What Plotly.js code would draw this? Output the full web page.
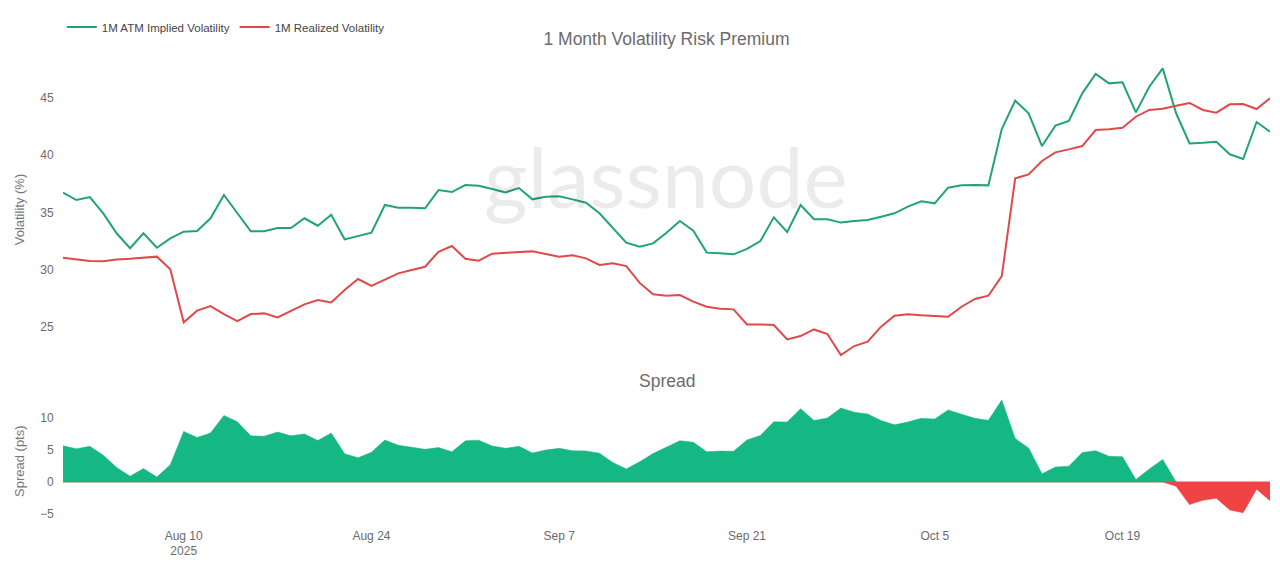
<!DOCTYPE html>
<html>
<head>
<meta charset="utf-8">
<script src="https://cdn.plot.ly/plotly-3.0.1.min.js"></script>
<style>
  html, body { margin: 0; padding: 0; background: #fff; }
  #chart { width: 1280px; height: 568px; }
</style>
</head>
<body>
<div id="chart"></div>
<script>
// Daily observations, 1 Aug 2025 – 30 Oct 2025
const startDate = '2025-08-01';
const dayCount = 91;

// 1M ATM implied volatility (%)
const impliedVol = [
  36.72, 36.08, 36.34, 34.92, 33.18, 31.87, 33.18, 31.92, 32.74, 33.32,
  33.38, 34.49, 36.52, 34.92, 33.35, 33.35, 33.64, 33.64, 34.49, 33.84,
  34.80, 32.65, 32.97, 33.23, 35.65, 35.41, 35.41, 35.36, 36.95, 36.78,
  37.39, 37.33, 37.04, 36.75, 37.13, 36.14, 36.37, 36.40, 36.14, 35.85,
  34.92, 33.61, 32.36, 32.01, 32.30, 33.23, 34.25, 33.41, 31.49, 31.43,
  31.34, 31.81, 32.50, 34.57, 33.29, 35.65, 34.40, 34.40, 34.11, 34.25,
  34.34, 34.63, 34.92, 35.50, 35.97, 35.79, 37.16, 37.36, 37.40, 37.36,
  42.28, 44.75, 43.65, 40.79, 42.57, 42.98, 45.39, 47.08, 46.26, 46.35,
  43.73, 45.97, 47.57, 43.65, 41.02, 41.08, 41.17, 40.07, 39.66, 42.89,
  42.04
];

// 1M realized volatility (%)
const realizedVol = [
  31.05, 30.90, 30.76, 30.73, 30.90, 30.96, 31.08, 31.14, 30.03, 25.41,
  26.43, 26.83, 26.13, 25.52, 26.13, 26.19, 25.84, 26.43, 26.98, 27.36,
  27.15, 28.23, 29.19, 28.58, 29.10, 29.68, 29.97, 30.26, 31.57, 32.07,
  30.96, 30.79, 31.40, 31.49, 31.54, 31.60, 31.37, 31.14, 31.26, 30.99,
  30.41, 30.56, 30.32, 28.85, 27.85, 27.73, 27.79, 27.21, 26.77, 26.60,
  26.54, 25.23, 25.23, 25.17, 23.92, 24.21, 24.79, 24.39, 22.56, 23.34,
  23.72, 25.03, 25.99, 26.11, 26.02, 25.96, 25.90, 26.77, 27.45, 27.73,
  29.45, 37.97, 38.32, 39.49, 40.24, 40.50, 40.79, 42.19, 42.25, 42.39,
  43.35, 43.94, 44.05, 44.31, 44.55, 43.94, 43.70, 44.43, 44.46, 44.02,
  44.96
];

const volTicks = [25, 30, 35, 40, 45];
const spreadTicks = [-5, 0, 5, 10];

const seriesNames = ['1M ATM Implied Volatility', '1M Realized Volatility'];
const chartTitle = '1 Month Volatility Risk Premium';
const spreadTitle = 'Spread';
const watermark = 'glassnode';

// Date axis values
const dates = [];
{
  const d0 = new Date(startDate + 'T00:00:00Z');
  for (let i = 0; i < dayCount; i++) {
    const d = new Date(d0.getTime() + i * 86400000);
    dates.push(d.toISOString().slice(0, 10));
  }
}

// Volatility risk premium = implied minus realized
const spread = impliedVol.map((v, i) => +(v - realizedVol[i]).toFixed(2));
const spreadPos = spread.map(v => Math.max(v, 0));
const spreadNeg = spread.map(v => Math.min(v, 0));

const GREEN_LINE = '#22a377';
const RED_LINE = '#e0494b';
const GREEN_FILL = '#15b883';
const RED_FILL = '#ef4444';
const FONT = 'Liberation Sans, Arial, Helvetica, sans-serif';

const traces = [
  {
    x: dates, y: impliedVol, name: seriesNames[0], type: 'scatter', mode: 'lines',
    line: { color: GREEN_LINE, width: 2 }, xaxis: 'x', yaxis: 'y'
  },
  {
    x: dates, y: realizedVol, name: seriesNames[1], type: 'scatter', mode: 'lines',
    line: { color: RED_LINE, width: 2 }, xaxis: 'x', yaxis: 'y'
  },
  {
    x: dates, y: spreadPos, name: 'Spread +', type: 'scatter', mode: 'lines',
    fill: 'tozeroy', fillcolor: GREEN_FILL, line: { color: GREEN_FILL, width: 0.5 },
    showlegend: false, xaxis: 'x2', yaxis: 'y2'
  },
  {
    x: dates, y: spreadNeg, name: 'Spread −', type: 'scatter', mode: 'lines',
    fill: 'tozeroy', fillcolor: RED_FILL, line: { color: RED_FILL, width: 0.5 },
    showlegend: false, xaxis: 'x2', yaxis: 'y2'
  }
];

const xRange = [dates[0], dates[dates.length - 1]];
const tickFont = { family: FONT, size: 12, color: '#6b6b6b' };

const layout = {
  width: 1280, height: 568,
  paper_bgcolor: '#ffffff', plot_bgcolor: '#ffffff',
  margin: { l: 63, r: 10, t: 50, b: 40 },
  font: { family: FONT, color: '#666' },
  showlegend: true,
  legend: {
    orientation: 'h', x: -0.001, xanchor: 'left', y: 1.048, yanchor: 'middle',
    font: { family: FONT, size: 11.5, color: '#444' }, bgcolor: 'rgba(0,0,0,0)'
  },
  title: {
    text: chartTitle, x: 0.5, xref: 'paper', xanchor: 'center',
    y: 1 - 39 / 568, yref: 'container', yanchor: 'middle',
    font: { family: FONT, size: 17.5, color: '#6b6b6b' }
  },
  xaxis: {
    type: 'date', range: xRange, domain: [0, 1], anchor: 'y',
    showticklabels: false, showgrid: false, zeroline: false, showline: false,
    matches: 'x2'
  },
  xaxis2: {
    type: 'date', range: xRange, domain: [0, 1], anchor: 'y2',
    tick0: '2025-08-10', dtick: 14 * 86400000,
    showgrid: false, zeroline: false, showline: false,
    ticks: '', tickfont: tickFont
  },
  yaxis: {
    domain: [(528 - 361.4) / 478, (528 - 57.7) / 478],
    range: [22, 48.5], tickvals: volTicks,
    showgrid: false, zeroline: false, showline: false,
    ticks: 'outside', ticklen: 6, tickcolor: 'rgba(0,0,0,0)',
    tickfont: tickFont,
    title: { text: 'Volatility (%)', standoff: 12, font: { family: FONT, size: 13, color: '#777' } }
  },
  yaxis2: {
    domain: [(528 - 526.8) / 478, (528 - 395.6) / 478],
    range: [-7, 13.5], tickvals: spreadTicks,
    showgrid: false, zeroline: true, zerolinecolor: '#a6ead0', zerolinewidth: 1.5,
    showline: false,
    ticks: 'outside', ticklen: 6, tickcolor: 'rgba(0,0,0,0)',
    tickfont: tickFont,
    title: { text: 'Spread (pts)', standoff: 12, font: { family: FONT, size: 13, color: '#777' } }
  },
  annotations: [
    {
      text: spreadTitle, xref: 'paper', yref: 'paper', x: 0.5, y: (528 - 381) / 478,
      xanchor: 'center', yanchor: 'middle', showarrow: false,
      font: { family: FONT, size: 17.5, color: '#6b6b6b' }
    },
    {
      text: watermark, xref: 'paper', yref: 'paper', x: 0.4996, y: (528 - 175) / 478,
      xanchor: 'center', yanchor: 'middle', showarrow: false,
      font: { family: 'Lato, Open Sans, sans-serif', size: 84, color: 'rgba(0,0,0,0.08)' }
    }
  ]
};

Plotly.newPlot('chart', traces, layout, { displayModeBar: false, staticPlot: true });
</script>
</body>
</html>
